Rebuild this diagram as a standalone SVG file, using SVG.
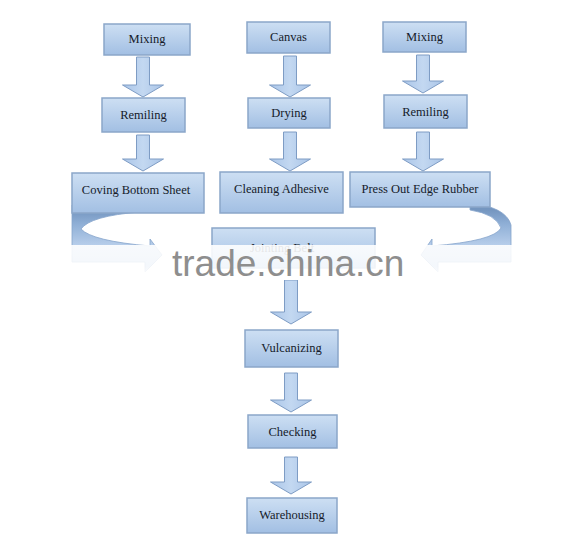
<svg xmlns="http://www.w3.org/2000/svg" width="573" height="551" viewBox="0 0 573 551">
<defs>
<linearGradient id="boxg" x1="0" y1="0" x2="0" y2="1">
<stop offset="0" stop-color="#cddff3"/>
<stop offset="1" stop-color="#a2bfe3"/>
</linearGradient>
<linearGradient id="arrg" x1="0" y1="0" x2="1" y2="0">
<stop offset="0" stop-color="#aac5e8"/>
<stop offset="0.5" stop-color="#c3d8f1"/>
<stop offset="1" stop-color="#a9c4e7"/>
</linearGradient>
<linearGradient id="bandg" gradientUnits="userSpaceOnUse" x1="0" y1="210" x2="0" y2="245">
<stop offset="0" stop-color="#7596c0"/>
<stop offset="0.4" stop-color="#8fafd6"/>
<stop offset="1" stop-color="#b6cdea"/>
</linearGradient>
<linearGradient id="fade" x1="0" y1="0" x2="0" y2="1">
<stop offset="0" stop-color="#ffffff" stop-opacity="0.9"/>
<stop offset="0.6" stop-color="#ffffff" stop-opacity="0.85"/>
<stop offset="1" stop-color="#ffffff" stop-opacity="1"/>
</linearGradient>
</defs>
<style>
.box{fill:url(#boxg);stroke:#8ba6c9;stroke-width:1.5}
.arr{fill:url(#arrg);stroke:#7e9cc4;stroke-width:1}
.band{fill:url(#bandg);stroke:#87a5cb;stroke-width:0.8}
.lbl{font-family:"Liberation Serif","Times New Roman",serif;font-size:12.5px;fill:#151b2a;text-anchor:middle}
.wm{font-family:"Liberation Sans",Arial,sans-serif;font-size:37px;fill:#8e8e8e}
</style>
<rect x="0" y="0" width="573" height="551" fill="#ffffff"/>
<g id="connectors">
<path class="arr" d="M136.5,57 h13 v28 h14 l-20.5,12 l-20.5,-12 h14 z"/>
<path class="arr" d="M136.5,135 h13 v24 h14 l-20.5,12 l-20.5,-12 h14 z"/>
<path class="arr" d="M283.5,56 h13 v29 h14 l-20.5,12 l-20.5,-12 h14 z"/>
<path class="arr" d="M283.5,132 h13 v27 h14 l-20.5,12 l-20.5,-12 h14 z"/>
<path class="arr" d="M416.5,55 h13 v26 h14 l-20.5,12 l-20.5,-12 h14 z"/>
<path class="arr" d="M416.5,132 h13 v27 h14 l-20.5,12 l-20.5,-12 h14 z"/>
<path class="arr" d="M284.5,280 h13 v32 h14 l-20.5,12 l-20.5,-12 h14 z"/>
<path class="arr" d="M284.5,373 h13 v27 h14 l-20.5,12 l-20.5,-12 h14 z"/>
<path class="arr" d="M284.5,457 h13 v25 h14 l-20.5,12 l-20.5,-12 h14 z"/>
<path id="curve-left" class="band" d="M72,205 L72,262 L145,262 L145,272 L162,255 L150,239 L150,246 Q92,241 81,229 Q90,216 140,212 L140,205 Z"/>
<path id="curve-right" class="band" d="M470,203 Q506,207 511,225 L511,262 L438,262 L438,272 L421,255 L432,239 L432,246 Q494,241 501,228 Q496,214 470,210 Z"/>
</g>
<g id="n-mixing1"><rect class="box" x="104" y="24" width="86" height="31"/><text class="lbl" x="147" y="43">Mixing</text></g>
<g id="n-canvas"><rect class="box" x="247" y="22" width="83" height="31"/><text class="lbl" x="288.5" y="41">Canvas</text></g>
<g id="n-mixing2"><rect class="box" x="383" y="22" width="83" height="30"/><text class="lbl" x="424.5" y="41">Mixing</text></g>
<g id="n-remiling1"><rect class="box" x="102" y="98" width="83" height="34"/><text class="lbl" x="143.5" y="119">Remiling</text></g>
<g id="n-drying"><rect class="box" x="248" y="98" width="82" height="30"/><text class="lbl" x="289" y="117">Drying</text></g>
<g id="n-remiling2"><rect class="box" x="384" y="95" width="83" height="33"/><text class="lbl" x="425.5" y="116">Remiling</text></g>
<g id="n-coving"><rect class="box" x="72" y="173" width="132" height="40"/><text class="lbl" x="136" y="194">Coving Bottom Sheet</text></g>
<g id="n-cleaning"><rect class="box" x="220" y="172" width="123" height="41"/><text class="lbl" x="281.5" y="193">Cleaning Adhesive</text></g>
<g id="n-press"><rect class="box" x="350" y="172" width="140" height="35"/><text class="lbl" x="420" y="193">Press Out Edge Rubber</text></g>
<g id="n-jointing"><rect class="box" x="212" y="228" width="163" height="40"/><text class="lbl" x="282" y="252">Jointing Belt</text></g>
<g id="n-vulcanizing"><rect class="box" x="245" y="330" width="93" height="37"/><text class="lbl" x="291.5" y="352">Vulcanizing</text></g>
<g id="n-checking"><rect class="box" x="248" y="415" width="89" height="33"/><text class="lbl" x="292.5" y="436">Checking</text></g>
<g id="n-warehousing"><rect class="box" x="247" y="498" width="90" height="35"/><text class="lbl" x="292" y="519">Warehousing</text></g>
<g id="watermark">
<rect x="0" y="245" width="573" height="35" fill="url(#fade)"/>
<text class="wm" x="172" y="276">trade.china.cn</text>
</g>
</svg>
